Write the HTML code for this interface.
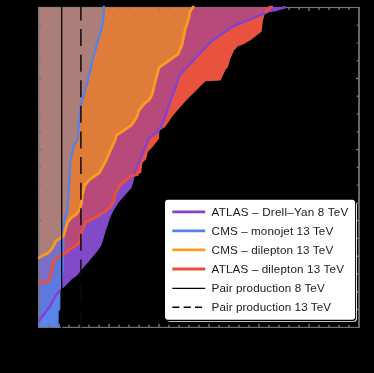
<!DOCTYPE html>
<html><head><meta charset="utf-8"><title>plot</title>
<style>
html,body{margin:0;padding:0;background:#000;}
body{width:374px;height:373px;overflow:hidden;position:relative;font-family:"Liberation Sans",sans-serif;}
</style></head><body>
<svg width="374" height="373" viewBox="0 0 374 373" style="position:absolute;left:0;top:0;will-change:transform">
<defs><clipPath id="c"><rect x="38.1" y="7.0" width="321.7" height="321.1"/></clipPath><clipPath id="c2"><rect x="38.1" y="5.8" width="321.7" height="322.3"/></clipPath></defs>
<rect x="38.65" y="7.5" width="320.40000000000003" height="319.9" fill="none" stroke="#747474" stroke-width="1.15"/><line x1="359.05" y1="7.0" x2="359.05" y2="327.9" stroke="#747474" stroke-width="1.5"/><path d="M49.0,327.4v-2.6M49.0,7.5v2.6M59.0,327.4v-3.6M59.0,7.5v3.6M69.0,327.4v-2.6M69.0,7.5v2.6M79.0,327.4v-2.6M79.0,7.5v2.6M89.0,327.4v-2.6M89.0,7.5v2.6M99.0,327.4v-2.6M99.0,7.5v2.6M109.0,327.4v-3.6M109.0,7.5v3.6M119.0,327.4v-2.6M119.0,7.5v2.6M129.0,327.4v-2.6M129.0,7.5v2.6M139.0,327.4v-2.6M139.0,7.5v2.6M149.0,327.4v-2.6M149.0,7.5v2.6M159.0,327.4v-3.6M159.0,7.5v3.6M169.0,327.4v-2.6M169.0,7.5v2.6M179.0,327.4v-2.6M179.0,7.5v2.6M189.0,327.4v-2.6M189.0,7.5v2.6M199.0,327.4v-2.6M199.0,7.5v2.6M209.0,327.4v-3.6M209.0,7.5v3.6M219.0,327.4v-2.6M219.0,7.5v2.6M229.0,327.4v-2.6M229.0,7.5v2.6M239.0,327.4v-2.6M239.0,7.5v2.6M249.0,327.4v-2.6M249.0,7.5v2.6M259.0,327.4v-3.6M259.0,7.5v3.6M269.0,327.4v-2.6M269.0,7.5v2.6M279.0,327.4v-2.6M279.0,7.5v2.6M289.0,327.4v-2.6M289.0,7.5v2.6M299.0,327.4v-2.6M299.0,7.5v2.6M309.0,327.4v-3.6M309.0,7.5v3.6M319.0,327.4v-2.6M319.0,7.5v2.6M329.0,327.4v-2.6M329.0,7.5v2.6M339.0,327.4v-2.6M339.0,7.5v2.6M349.0,327.4v-2.6M349.0,7.5v2.6M38.65,25.2h2.2M359.05,25.2h-2.2M38.65,42.9h2.2M359.05,42.9h-2.2M38.65,60.7h2.2M359.05,60.7h-2.2M38.65,78.5h3.2M359.05,78.5h-3.2M38.65,96.2h2.2M359.05,96.2h-2.2M38.65,114.0h2.2M359.05,114.0h-2.2M38.65,131.8h2.2M359.05,131.8h-2.2M38.65,149.6h3.2M359.05,149.6h-3.2M38.65,167.3h2.2M359.05,167.3h-2.2M38.65,185.1h2.2M359.05,185.1h-2.2M38.65,202.9h2.2M359.05,202.9h-2.2M38.65,220.6h3.2M359.05,220.6h-3.2M38.65,238.4h2.2M359.05,238.4h-2.2M38.65,256.2h2.2M359.05,256.2h-2.2M38.65,273.9h2.2M359.05,273.9h-2.2M38.65,291.7h3.2M359.05,291.7h-3.2M38.65,309.5h2.2M359.05,309.5h-2.2" stroke="#747474" stroke-width="1.4" fill="none"/>
<g clip-path="url(#c)">
<polygon fill="#804AC8" points="38.1,7.0 285.7,7.0 275.6,10.1 268.0,11.3 261.7,14.6 247.9,20.2 232.8,26.5 220.2,35.3 210.5,42.1 207.6,45.0 200.0,53.0 190.6,63.5 179.2,75.5 176.0,85.7 173.5,92.5 170.6,100.0 167.5,110.1 164.3,118.9 160.5,127.7 156.7,132.8 149.1,137.8 144.4,149.5 139.4,161.3 134.6,172.5 134.6,175.7 133.9,180.0 131.5,188.0 125.0,195.3 118.6,202.5 113.0,211.4 109.8,218.6 107.3,226.6 105.9,230.0 103.5,238.8 101.0,246.1 97.0,251.7 92.2,257.3 88.2,262.2 83.3,267.8 80.1,271.8 76.9,275.8 72.1,279.1 67.3,283.9 63.2,287.9 60.1,289.5 55.3,296.5 50.5,305.4 44.0,314.2 38.1,322.3"/>
<polygon fill="#E8523F" points="38.1,7.0 271.0,7.0 265.5,11.3 263.0,20.2 261.7,31.5 250.4,40.3 244.0,43.9 237.8,46.6 234.0,50.4 231.9,55.2 230.2,59.2 228.1,66.5 225.2,70.6 220.6,80.4 205.5,81.3 200.1,86.4 193.6,92.9 186.1,100.4 178.6,109.0 172.2,116.5 167.9,122.9 164.7,127.2 159.5,130.6 158.9,139.0 152.9,146.5 147.8,151.9 146.2,159.0 142.4,163.0 141.2,173.1 138.6,174.1 129.8,176.5 126.6,180.0 121.0,184.0 114.6,194.5 114.3,200.9 110.6,206.5 104.1,212.4 96.1,217.0 88.0,221.3 85.6,221.8 84.5,226.0 81.9,231.5 81.0,236.0 79.8,242.3 76.2,245.6 69.0,249.6 66.6,252.8 61.7,255.2 56.9,257.6 54.0,261.6 52.1,266.5 52.6,270.5 51.3,272.4 50.2,277.2 48.1,281.3 38.1,283.7"/>
<clipPath id="cp"><polygon points="38.1,7.0 285.7,7.0 275.6,10.1 268.0,11.3 261.7,14.6 247.9,20.2 232.8,26.5 220.2,35.3 210.5,42.1 207.6,45.0 200.0,53.0 190.6,63.5 179.2,75.5 176.0,85.7 173.5,92.5 170.6,100.0 167.5,110.1 164.3,118.9 160.5,127.7 156.7,132.8 149.1,137.8 144.4,149.5 139.4,161.3 134.6,172.5 134.6,175.7 133.9,180.0 131.5,188.0 125.0,195.3 118.6,202.5 113.0,211.4 109.8,218.6 107.3,226.6 105.9,230.0 103.5,238.8 101.0,246.1 97.0,251.7 92.2,257.3 88.2,262.2 83.3,267.8 80.1,271.8 76.9,275.8 72.1,279.1 67.3,283.9 63.2,287.9 60.1,289.5 55.3,296.5 50.5,305.4 44.0,314.2 38.1,322.3"/></clipPath>
<polygon clip-path="url(#cp)" fill="#B8497B" points="38.1,7.0 271.0,7.0 265.5,11.3 263.0,20.2 261.7,31.5 250.4,40.3 244.0,43.9 237.8,46.6 234.0,50.4 231.9,55.2 230.2,59.2 228.1,66.5 225.2,70.6 220.6,80.4 205.5,81.3 200.1,86.4 193.6,92.9 186.1,100.4 178.6,109.0 172.2,116.5 167.9,122.9 164.7,127.2 159.5,130.6 158.9,139.0 152.9,146.5 147.8,151.9 146.2,159.0 142.4,163.0 141.2,173.1 138.6,174.1 129.8,176.5 126.6,180.0 121.0,184.0 114.6,194.5 114.3,200.9 110.6,206.5 104.1,212.4 96.1,217.0 88.0,221.3 85.6,221.8 84.5,226.0 81.9,231.5 81.0,236.0 79.8,242.3 76.2,245.6 69.0,249.6 66.6,252.8 61.7,255.2 56.9,257.6 54.0,261.6 52.1,266.5 52.6,270.5 51.3,272.4 50.2,277.2 48.1,281.3 38.1,283.7"/>
<polygon fill="#E07C3A" points="38.1,7.0 193.6,5.0 193.2,7.0 190.1,11.3 188.6,18.9 185.6,27.7 181.8,45.4 178.0,54.2 159.1,67.5 155.4,80.6 152.3,94.0 149.1,100.0 144.1,103.8 139.1,110.1 136.5,117.6 131.5,125.2 116.4,135.3 115.2,140.0 110.6,150.0 105.6,161.4 99.3,172.8 90.5,179.0 88.8,180.0 84.8,185.6 82.4,194.5 81.3,204.1 79.1,210.6 75.4,215.0 70.6,218.2 67.4,223.0 65.0,231.0 63.3,236.0 60.1,238.3 56.1,240.7 53.7,245.6 51.3,249.6 47.3,253.6 43.2,255.2 38.1,258.3"/>
<clipPath id="cb"><polygon points="38.1,7.0 103.9,5.0 103.6,15.1 102.6,25.2 98.1,40.3 93.0,58.0 90.4,70.0 86.6,85.1 81.1,104.0 79.1,120.4 77.8,139.3 74.0,145.6 71.5,155.7 70.3,160.2 69.6,177.8 68.3,198.0 67.0,213.0 64.5,220.0 63.6,227.0 63.3,250.0 62.5,270.0 59.3,290.0 59.2,309.0 57.6,311.0 57.5,328.1 38.1,328.1"/></clipPath>
<g clip-path="url(#cb)">
<rect x="38.1" y="7.0" width="80" height="321.1" fill="#5986EC"/>
<polygon fill="#5F78DE" points="38.1,7.0 285.7,7.0 275.6,10.1 268.0,11.3 261.7,14.6 247.9,20.2 232.8,26.5 220.2,35.3 210.5,42.1 207.6,45.0 200.0,53.0 190.6,63.5 179.2,75.5 176.0,85.7 173.5,92.5 170.6,100.0 167.5,110.1 164.3,118.9 160.5,127.7 156.7,132.8 149.1,137.8 144.4,149.5 139.4,161.3 134.6,172.5 134.6,175.7 133.9,180.0 131.5,188.0 125.0,195.3 118.6,202.5 113.0,211.4 109.8,218.6 107.3,226.6 105.9,230.0 103.5,238.8 101.0,246.1 97.0,251.7 92.2,257.3 88.2,262.2 83.3,267.8 80.1,271.8 76.9,275.8 72.1,279.1 67.3,283.9 63.2,287.9 60.1,289.5 55.3,296.5 50.5,305.4 44.0,314.2 38.1,322.3"/>
<polygon fill="#7A6EC8" points="38.1,7.0 271.0,7.0 265.5,11.3 263.0,20.2 261.7,31.5 250.4,40.3 244.0,43.9 237.8,46.6 234.0,50.4 231.9,55.2 230.2,59.2 228.1,66.5 225.2,70.6 220.6,80.4 205.5,81.3 200.1,86.4 193.6,92.9 186.1,100.4 178.6,109.0 172.2,116.5 167.9,122.9 164.7,127.2 159.5,130.6 158.9,139.0 152.9,146.5 147.8,151.9 146.2,159.0 142.4,163.0 141.2,173.1 138.6,174.1 129.8,176.5 126.6,180.0 121.0,184.0 114.6,194.5 114.3,200.9 110.6,206.5 104.1,212.4 96.1,217.0 88.0,221.3 85.6,221.8 84.5,226.0 81.9,231.5 81.0,236.0 79.8,242.3 76.2,245.6 69.0,249.6 66.6,252.8 61.7,255.2 56.9,257.6 54.0,261.6 52.1,266.5 52.6,270.5 51.3,272.4 50.2,277.2 48.1,281.3 38.1,283.7"/>
<polygon fill="#AB7E79" points="38.1,7.0 193.6,5.0 193.2,7.0 190.1,11.3 188.6,18.9 185.6,27.7 181.8,45.4 178.0,54.2 159.1,67.5 155.4,80.6 152.3,94.0 149.1,100.0 144.1,103.8 139.1,110.1 136.5,117.6 131.5,125.2 116.4,135.3 115.2,140.0 110.6,150.0 105.6,161.4 99.3,172.8 90.5,179.0 88.8,180.0 84.8,185.6 82.4,194.5 81.3,204.1 79.1,210.6 75.4,215.0 70.6,218.2 67.4,223.0 65.0,231.0 63.3,236.0 60.1,238.3 56.1,240.7 53.7,245.6 51.3,249.6 47.3,253.6 43.2,255.2 38.1,258.3"/>
</g>
</g>
<svg x="37" y="9" width="9" height="321" viewBox="37 9 9 321"><g opacity="1"><rect x="38.65" y="7.5" width="320.40000000000003" height="319.9" fill="none" stroke="#747474" stroke-width="1.15"/><line x1="359.05" y1="7.0" x2="359.05" y2="327.9" stroke="#747474" stroke-width="1.5"/><path d="M49.0,327.4v-2.6M49.0,7.5v2.6M59.0,327.4v-3.6M59.0,7.5v3.6M69.0,327.4v-2.6M69.0,7.5v2.6M79.0,327.4v-2.6M79.0,7.5v2.6M89.0,327.4v-2.6M89.0,7.5v2.6M99.0,327.4v-2.6M99.0,7.5v2.6M109.0,327.4v-3.6M109.0,7.5v3.6M119.0,327.4v-2.6M119.0,7.5v2.6M129.0,327.4v-2.6M129.0,7.5v2.6M139.0,327.4v-2.6M139.0,7.5v2.6M149.0,327.4v-2.6M149.0,7.5v2.6M159.0,327.4v-3.6M159.0,7.5v3.6M169.0,327.4v-2.6M169.0,7.5v2.6M179.0,327.4v-2.6M179.0,7.5v2.6M189.0,327.4v-2.6M189.0,7.5v2.6M199.0,327.4v-2.6M199.0,7.5v2.6M209.0,327.4v-3.6M209.0,7.5v3.6M219.0,327.4v-2.6M219.0,7.5v2.6M229.0,327.4v-2.6M229.0,7.5v2.6M239.0,327.4v-2.6M239.0,7.5v2.6M249.0,327.4v-2.6M249.0,7.5v2.6M259.0,327.4v-3.6M259.0,7.5v3.6M269.0,327.4v-2.6M269.0,7.5v2.6M279.0,327.4v-2.6M279.0,7.5v2.6M289.0,327.4v-2.6M289.0,7.5v2.6M299.0,327.4v-2.6M299.0,7.5v2.6M309.0,327.4v-3.6M309.0,7.5v3.6M319.0,327.4v-2.6M319.0,7.5v2.6M329.0,327.4v-2.6M329.0,7.5v2.6M339.0,327.4v-2.6M339.0,7.5v2.6M349.0,327.4v-2.6M349.0,7.5v2.6M38.65,25.2h2.2M359.05,25.2h-2.2M38.65,42.9h2.2M359.05,42.9h-2.2M38.65,60.7h2.2M359.05,60.7h-2.2M38.65,78.5h3.2M359.05,78.5h-3.2M38.65,96.2h2.2M359.05,96.2h-2.2M38.65,114.0h2.2M359.05,114.0h-2.2M38.65,131.8h2.2M359.05,131.8h-2.2M38.65,149.6h3.2M359.05,149.6h-3.2M38.65,167.3h2.2M359.05,167.3h-2.2M38.65,185.1h2.2M359.05,185.1h-2.2M38.65,202.9h2.2M359.05,202.9h-2.2M38.65,220.6h3.2M359.05,220.6h-3.2M38.65,238.4h2.2M359.05,238.4h-2.2M38.65,256.2h2.2M359.05,256.2h-2.2M38.65,273.9h2.2M359.05,273.9h-2.2M38.65,291.7h3.2M359.05,291.7h-3.2M38.65,309.5h2.2M359.05,309.5h-2.2" stroke="#747474" stroke-width="1.4" fill="none"/></g></svg>
<svg x="46" y="322" width="16" height="8" viewBox="46 322 16 8"><g opacity="1"><rect x="38.65" y="7.5" width="320.40000000000003" height="319.9" fill="none" stroke="#747474" stroke-width="1.15"/><line x1="359.05" y1="7.0" x2="359.05" y2="327.9" stroke="#747474" stroke-width="1.5"/><path d="M49.0,327.4v-2.6M49.0,7.5v2.6M59.0,327.4v-3.6M59.0,7.5v3.6M69.0,327.4v-2.6M69.0,7.5v2.6M79.0,327.4v-2.6M79.0,7.5v2.6M89.0,327.4v-2.6M89.0,7.5v2.6M99.0,327.4v-2.6M99.0,7.5v2.6M109.0,327.4v-3.6M109.0,7.5v3.6M119.0,327.4v-2.6M119.0,7.5v2.6M129.0,327.4v-2.6M129.0,7.5v2.6M139.0,327.4v-2.6M139.0,7.5v2.6M149.0,327.4v-2.6M149.0,7.5v2.6M159.0,327.4v-3.6M159.0,7.5v3.6M169.0,327.4v-2.6M169.0,7.5v2.6M179.0,327.4v-2.6M179.0,7.5v2.6M189.0,327.4v-2.6M189.0,7.5v2.6M199.0,327.4v-2.6M199.0,7.5v2.6M209.0,327.4v-3.6M209.0,7.5v3.6M219.0,327.4v-2.6M219.0,7.5v2.6M229.0,327.4v-2.6M229.0,7.5v2.6M239.0,327.4v-2.6M239.0,7.5v2.6M249.0,327.4v-2.6M249.0,7.5v2.6M259.0,327.4v-3.6M259.0,7.5v3.6M269.0,327.4v-2.6M269.0,7.5v2.6M279.0,327.4v-2.6M279.0,7.5v2.6M289.0,327.4v-2.6M289.0,7.5v2.6M299.0,327.4v-2.6M299.0,7.5v2.6M309.0,327.4v-3.6M309.0,7.5v3.6M319.0,327.4v-2.6M319.0,7.5v2.6M329.0,327.4v-2.6M329.0,7.5v2.6M339.0,327.4v-2.6M339.0,7.5v2.6M349.0,327.4v-2.6M349.0,7.5v2.6M38.65,25.2h2.2M359.05,25.2h-2.2M38.65,42.9h2.2M359.05,42.9h-2.2M38.65,60.7h2.2M359.05,60.7h-2.2M38.65,78.5h3.2M359.05,78.5h-3.2M38.65,96.2h2.2M359.05,96.2h-2.2M38.65,114.0h2.2M359.05,114.0h-2.2M38.65,131.8h2.2M359.05,131.8h-2.2M38.65,149.6h3.2M359.05,149.6h-3.2M38.65,167.3h2.2M359.05,167.3h-2.2M38.65,185.1h2.2M359.05,185.1h-2.2M38.65,202.9h2.2M359.05,202.9h-2.2M38.65,220.6h3.2M359.05,220.6h-3.2M38.65,238.4h2.2M359.05,238.4h-2.2M38.65,256.2h2.2M359.05,256.2h-2.2M38.65,273.9h2.2M359.05,273.9h-2.2M38.65,291.7h3.2M359.05,291.7h-3.2M38.65,309.5h2.2M359.05,309.5h-2.2" stroke="#747474" stroke-width="1.4" fill="none"/></g></svg>
<svg x="37" y="5" width="156" height="4" viewBox="37 5 156 4"><g opacity="0.3"><rect x="38.65" y="7.5" width="320.40000000000003" height="319.9" fill="none" stroke="#747474" stroke-width="1.15"/><line x1="359.05" y1="7.0" x2="359.05" y2="327.9" stroke="#747474" stroke-width="1.5"/><path d="M49.0,327.4v-2.6M49.0,7.5v2.6M59.0,327.4v-3.6M59.0,7.5v3.6M69.0,327.4v-2.6M69.0,7.5v2.6M79.0,327.4v-2.6M79.0,7.5v2.6M89.0,327.4v-2.6M89.0,7.5v2.6M99.0,327.4v-2.6M99.0,7.5v2.6M109.0,327.4v-3.6M109.0,7.5v3.6M119.0,327.4v-2.6M119.0,7.5v2.6M129.0,327.4v-2.6M129.0,7.5v2.6M139.0,327.4v-2.6M139.0,7.5v2.6M149.0,327.4v-2.6M149.0,7.5v2.6M159.0,327.4v-3.6M159.0,7.5v3.6M169.0,327.4v-2.6M169.0,7.5v2.6M179.0,327.4v-2.6M179.0,7.5v2.6M189.0,327.4v-2.6M189.0,7.5v2.6M199.0,327.4v-2.6M199.0,7.5v2.6M209.0,327.4v-3.6M209.0,7.5v3.6M219.0,327.4v-2.6M219.0,7.5v2.6M229.0,327.4v-2.6M229.0,7.5v2.6M239.0,327.4v-2.6M239.0,7.5v2.6M249.0,327.4v-2.6M249.0,7.5v2.6M259.0,327.4v-3.6M259.0,7.5v3.6M269.0,327.4v-2.6M269.0,7.5v2.6M279.0,327.4v-2.6M279.0,7.5v2.6M289.0,327.4v-2.6M289.0,7.5v2.6M299.0,327.4v-2.6M299.0,7.5v2.6M309.0,327.4v-3.6M309.0,7.5v3.6M319.0,327.4v-2.6M319.0,7.5v2.6M329.0,327.4v-2.6M329.0,7.5v2.6M339.0,327.4v-2.6M339.0,7.5v2.6M349.0,327.4v-2.6M349.0,7.5v2.6M38.65,25.2h2.2M359.05,25.2h-2.2M38.65,42.9h2.2M359.05,42.9h-2.2M38.65,60.7h2.2M359.05,60.7h-2.2M38.65,78.5h3.2M359.05,78.5h-3.2M38.65,96.2h2.2M359.05,96.2h-2.2M38.65,114.0h2.2M359.05,114.0h-2.2M38.65,131.8h2.2M359.05,131.8h-2.2M38.65,149.6h3.2M359.05,149.6h-3.2M38.65,167.3h2.2M359.05,167.3h-2.2M38.65,185.1h2.2M359.05,185.1h-2.2M38.65,202.9h2.2M359.05,202.9h-2.2M38.65,220.6h3.2M359.05,220.6h-3.2M38.65,238.4h2.2M359.05,238.4h-2.2M38.65,256.2h2.2M359.05,256.2h-2.2M38.65,273.9h2.2M359.05,273.9h-2.2M38.65,291.7h3.2M359.05,291.7h-3.2M38.65,309.5h2.2M359.05,309.5h-2.2" stroke="#747474" stroke-width="1.4" fill="none"/></g></svg>
<svg x="46" y="9" width="147" height="3" viewBox="46 9 147 3"><g opacity="0.3"><rect x="38.65" y="7.5" width="320.40000000000003" height="319.9" fill="none" stroke="#747474" stroke-width="1.15"/><line x1="359.05" y1="7.0" x2="359.05" y2="327.9" stroke="#747474" stroke-width="1.5"/><path d="M49.0,327.4v-2.6M49.0,7.5v2.6M59.0,327.4v-3.6M59.0,7.5v3.6M69.0,327.4v-2.6M69.0,7.5v2.6M79.0,327.4v-2.6M79.0,7.5v2.6M89.0,327.4v-2.6M89.0,7.5v2.6M99.0,327.4v-2.6M99.0,7.5v2.6M109.0,327.4v-3.6M109.0,7.5v3.6M119.0,327.4v-2.6M119.0,7.5v2.6M129.0,327.4v-2.6M129.0,7.5v2.6M139.0,327.4v-2.6M139.0,7.5v2.6M149.0,327.4v-2.6M149.0,7.5v2.6M159.0,327.4v-3.6M159.0,7.5v3.6M169.0,327.4v-2.6M169.0,7.5v2.6M179.0,327.4v-2.6M179.0,7.5v2.6M189.0,327.4v-2.6M189.0,7.5v2.6M199.0,327.4v-2.6M199.0,7.5v2.6M209.0,327.4v-3.6M209.0,7.5v3.6M219.0,327.4v-2.6M219.0,7.5v2.6M229.0,327.4v-2.6M229.0,7.5v2.6M239.0,327.4v-2.6M239.0,7.5v2.6M249.0,327.4v-2.6M249.0,7.5v2.6M259.0,327.4v-3.6M259.0,7.5v3.6M269.0,327.4v-2.6M269.0,7.5v2.6M279.0,327.4v-2.6M279.0,7.5v2.6M289.0,327.4v-2.6M289.0,7.5v2.6M299.0,327.4v-2.6M299.0,7.5v2.6M309.0,327.4v-3.6M309.0,7.5v3.6M319.0,327.4v-2.6M319.0,7.5v2.6M329.0,327.4v-2.6M329.0,7.5v2.6M339.0,327.4v-2.6M339.0,7.5v2.6M349.0,327.4v-2.6M349.0,7.5v2.6M38.65,25.2h2.2M359.05,25.2h-2.2M38.65,42.9h2.2M359.05,42.9h-2.2M38.65,60.7h2.2M359.05,60.7h-2.2M38.65,78.5h3.2M359.05,78.5h-3.2M38.65,96.2h2.2M359.05,96.2h-2.2M38.65,114.0h2.2M359.05,114.0h-2.2M38.65,131.8h2.2M359.05,131.8h-2.2M38.65,149.6h3.2M359.05,149.6h-3.2M38.65,167.3h2.2M359.05,167.3h-2.2M38.65,185.1h2.2M359.05,185.1h-2.2M38.65,202.9h2.2M359.05,202.9h-2.2M38.65,220.6h3.2M359.05,220.6h-3.2M38.65,238.4h2.2M359.05,238.4h-2.2M38.65,256.2h2.2M359.05,256.2h-2.2M38.65,273.9h2.2M359.05,273.9h-2.2M38.65,291.7h3.2M359.05,291.7h-3.2M38.65,309.5h2.2M359.05,309.5h-2.2" stroke="#747474" stroke-width="1.4" fill="none"/></g></svg>
<svg x="193" y="5" width="78" height="7" viewBox="193 5 78 7"><g opacity="0.4"><rect x="38.65" y="7.5" width="320.40000000000003" height="319.9" fill="none" stroke="#747474" stroke-width="1.15"/><line x1="359.05" y1="7.0" x2="359.05" y2="327.9" stroke="#747474" stroke-width="1.5"/><path d="M49.0,327.4v-2.6M49.0,7.5v2.6M59.0,327.4v-3.6M59.0,7.5v3.6M69.0,327.4v-2.6M69.0,7.5v2.6M79.0,327.4v-2.6M79.0,7.5v2.6M89.0,327.4v-2.6M89.0,7.5v2.6M99.0,327.4v-2.6M99.0,7.5v2.6M109.0,327.4v-3.6M109.0,7.5v3.6M119.0,327.4v-2.6M119.0,7.5v2.6M129.0,327.4v-2.6M129.0,7.5v2.6M139.0,327.4v-2.6M139.0,7.5v2.6M149.0,327.4v-2.6M149.0,7.5v2.6M159.0,327.4v-3.6M159.0,7.5v3.6M169.0,327.4v-2.6M169.0,7.5v2.6M179.0,327.4v-2.6M179.0,7.5v2.6M189.0,327.4v-2.6M189.0,7.5v2.6M199.0,327.4v-2.6M199.0,7.5v2.6M209.0,327.4v-3.6M209.0,7.5v3.6M219.0,327.4v-2.6M219.0,7.5v2.6M229.0,327.4v-2.6M229.0,7.5v2.6M239.0,327.4v-2.6M239.0,7.5v2.6M249.0,327.4v-2.6M249.0,7.5v2.6M259.0,327.4v-3.6M259.0,7.5v3.6M269.0,327.4v-2.6M269.0,7.5v2.6M279.0,327.4v-2.6M279.0,7.5v2.6M289.0,327.4v-2.6M289.0,7.5v2.6M299.0,327.4v-2.6M299.0,7.5v2.6M309.0,327.4v-3.6M309.0,7.5v3.6M319.0,327.4v-2.6M319.0,7.5v2.6M329.0,327.4v-2.6M329.0,7.5v2.6M339.0,327.4v-2.6M339.0,7.5v2.6M349.0,327.4v-2.6M349.0,7.5v2.6M38.65,25.2h2.2M359.05,25.2h-2.2M38.65,42.9h2.2M359.05,42.9h-2.2M38.65,60.7h2.2M359.05,60.7h-2.2M38.65,78.5h3.2M359.05,78.5h-3.2M38.65,96.2h2.2M359.05,96.2h-2.2M38.65,114.0h2.2M359.05,114.0h-2.2M38.65,131.8h2.2M359.05,131.8h-2.2M38.65,149.6h3.2M359.05,149.6h-3.2M38.65,167.3h2.2M359.05,167.3h-2.2M38.65,185.1h2.2M359.05,185.1h-2.2M38.65,202.9h2.2M359.05,202.9h-2.2M38.65,220.6h3.2M359.05,220.6h-3.2M38.65,238.4h2.2M359.05,238.4h-2.2M38.65,256.2h2.2M359.05,256.2h-2.2M38.65,273.9h2.2M359.05,273.9h-2.2M38.65,291.7h3.2M359.05,291.7h-3.2M38.65,309.5h2.2M359.05,309.5h-2.2" stroke="#747474" stroke-width="1.4" fill="none"/></g></svg>
<g clip-path="url(#c2)">
<polyline fill="none" stroke="#5681E8" stroke-width="2.3" stroke-linejoin="round" points="103.9,5.0 103.6,15.1 102.6,25.2 98.1,40.3 93.0,58.0 90.4,70.0 86.6,85.1 81.1,104.0 79.1,120.4 77.8,139.3 74.0,145.6 71.5,155.7 70.3,160.2 69.6,177.8 68.3,198.0 67.0,213.0 64.5,220.0 63.6,227.0 63.3,250.0 62.5,270.0 59.3,290.0 59.2,309.0 57.6,311.0 57.5,328.1"/>
<polyline fill="none" stroke="#8542CE" stroke-width="2.5" stroke-linejoin="round" points="285.7,7.0 275.6,10.1 268.0,11.3 261.7,14.6 247.9,20.2 232.8,26.5 220.2,35.3 210.5,42.1 207.6,45.0 200.0,53.0 190.6,63.5 179.2,75.5 176.0,85.7 173.5,92.5 170.6,100.0 167.5,110.1 164.3,118.9 160.5,127.7 156.7,132.8 149.1,137.8 144.4,149.5 139.4,161.3 134.6,172.5 134.6,175.7"/>
<polyline fill="none" stroke="#8542CE" stroke-width="2.5" stroke-linejoin="round" points="60.1,289.5 55.3,296.5 50.5,305.4 44.0,314.2 38.1,322.3"/>
<polyline fill="none" stroke="#F99B1F" stroke-width="2.8" stroke-linejoin="round" points="193.6,5.0 193.2,7.0 190.1,11.3 188.6,18.9 185.6,27.7 181.8,45.4 178.0,54.2 159.1,67.5 155.4,80.6 152.3,94.0 149.1,100.0 144.1,103.8 139.1,110.1 136.5,117.6 131.5,125.2 116.4,135.3 115.2,140.0 110.6,150.0 105.6,161.4 99.3,172.8 90.5,179.0 88.8,180.0 84.8,185.6 82.4,194.5 81.3,204.1 79.1,210.6 75.4,215.0 70.6,218.2 67.4,223.0 65.0,231.0 63.3,236.0 60.1,238.3 56.1,240.7 53.7,245.6 51.3,249.6 47.3,253.6 43.2,255.2 38.1,258.3"/>
<polyline fill="none" stroke="#E8503C" stroke-width="3.6" points="272.2,5.2 265,12.6"/>
<polyline fill="none" stroke="#E8503C" stroke-width="2.8" stroke-linejoin="round" points="138.6,174.1 129.8,176.5 126.6,180.0 121.0,184.0 114.6,194.5 114.3,200.9 110.6,206.5 104.1,212.4 96.1,217.0 88.0,221.3 85.6,221.8 84.5,226.0 81.9,231.5 81.0,236.0 79.8,242.3 76.2,245.6 69.0,249.6 66.6,252.8 61.7,255.2 56.9,257.6 54.0,261.6 52.1,266.5 52.6,270.5 51.3,272.4 50.2,277.2 48.1,281.3 38.1,283.7"/>
<line x1="61.7" y1="0" x2="61.7" y2="340" stroke="#000" stroke-width="1.2"/>
<line x1="80.9" y1="3.51" x2="80.9" y2="340" stroke="#140808" stroke-width="1.5" stroke-dasharray="17 8.59"/>
</g>
<g>
<rect x="166.6" y="201.4" width="190.4" height="120.4" rx="3.5" fill="#fff"/>
<rect x="165" y="199.8" width="191.1" height="121.1" rx="3.5" fill="#000"/>
<rect x="165" y="199.8" width="190.1" height="120.0" rx="3" fill="#fff"/>
<line x1="172.3" y1="211.8" x2="205.2" y2="211.8" stroke="#8542CE" stroke-width="2.8"/>
<text x="211.6" y="215.6" textLength="136.6" lengthAdjust="spacing" font-family="Liberation Sans, sans-serif" font-size="11.65" fill="#1a1a1a">ATLAS – Drell–Yan 8 TeV</text>
<line x1="172.3" y1="230.9" x2="205.2" y2="230.9" stroke="#5681E8" stroke-width="2.8"/>
<text x="211.6" y="234.6" textLength="121.6" lengthAdjust="spacing" font-family="Liberation Sans, sans-serif" font-size="11.65" fill="#1a1a1a">CMS – monojet 13 TeV</text>
<line x1="172.3" y1="249.9" x2="205.2" y2="249.9" stroke="#F99B1F" stroke-width="2.8"/>
<text x="211.6" y="253.7" textLength="121.6" lengthAdjust="spacing" font-family="Liberation Sans, sans-serif" font-size="11.65" fill="#1a1a1a">CMS – dilepton 13 TeV</text>
<line x1="172.3" y1="269.0" x2="205.2" y2="269.0" stroke="#E8503C" stroke-width="2.8"/>
<text x="211.6" y="272.7" textLength="132.3" lengthAdjust="spacing" font-family="Liberation Sans, sans-serif" font-size="11.65" fill="#1a1a1a">ATLAS – dilepton 13 TeV</text>
<line x1="172.3" y1="288.4" x2="205.2" y2="288.4" stroke="#000" stroke-width="1.3"/>
<text x="211.6" y="291.7" textLength="113.1" lengthAdjust="spacing" font-family="Liberation Sans, sans-serif" font-size="11.65" fill="#1a1a1a">Pair production 8 TeV</text>
<line x1="172.3" y1="307.2" x2="205.2" y2="307.2" stroke="#000" stroke-width="1.6" stroke-dasharray="7.1 4.25"/>
<text x="211.6" y="310.8" textLength="119.5" lengthAdjust="spacing" font-family="Liberation Sans, sans-serif" font-size="11.65" fill="#1a1a1a">Pair production 13 TeV</text>
</g>
</svg>
</body></html>
